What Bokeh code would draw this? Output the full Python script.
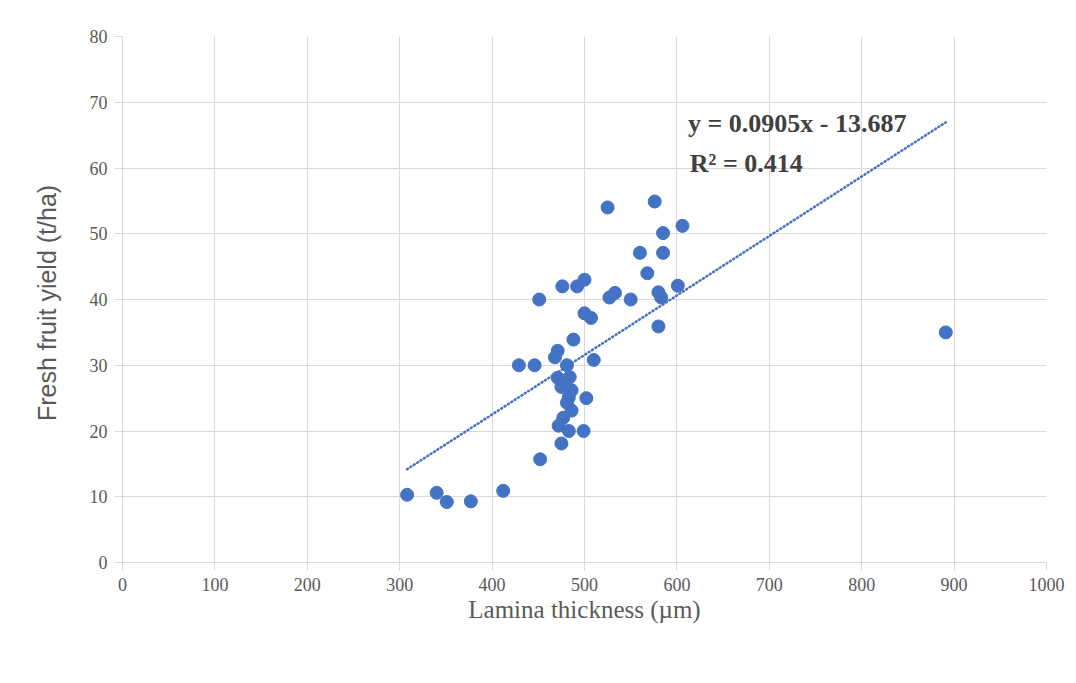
from bokeh.plotting import figure
from bokeh.models import Label, Range1d, FixedTicker, ColumnDataSource
from bokeh.embed import file_html
from bokeh.resources import INLINE

# ---- data ----
thickness = [525, 576, 606, 585, 560, 585, 568, 451, 476, 492, 500, 527, 533, 550,
             580, 583, 601, 580, 500, 507, 488, 471, 468, 510, 429, 446, 481, 484,
             471, 475, 486, 483, 502, 486, 477, 472, 483, 499, 475, 452, 308, 340,
             351, 377, 412, 891, 478, 481]
yield_tha = [54.0, 54.9, 51.2, 50.1, 47.1, 47.1, 44.0, 40.0, 42.0, 42.0, 43.0, 40.3,
             41.0, 40.0, 41.1, 40.3, 42.1, 35.9, 37.9, 37.2, 33.9, 32.2, 31.2, 30.8,
             30.0, 30.0, 30.0, 28.2, 28.1, 26.7, 26.2, 25.1, 25.0, 23.1, 22.0, 20.8,
             20.0, 20.0, 18.1, 15.7, 10.3, 10.6, 9.2, 9.3, 10.9, 35.0, 27.3, 24.3]
slope = 0.0905
intercept = -13.687
r_squared = 0.414
x_ticks = [0, 100, 200, 300, 400, 500, 600, 700, 800, 900, 1000]
y_ticks = [0, 10, 20, 30, 40, 50, 60, 70, 80]

BLUE = "#4472C4"
GRID = "#d9d9d9"
TXT = "#595959"

p = figure(frame_width=924, frame_height=526, output_backend="svg",
           toolbar_location=None, min_border_left=122, min_border_top=36,
           min_border_right=22, min_border_bottom=100,
           x_range=Range1d(0, 1000), y_range=Range1d(0, 80))
p.outline_line_color = None
p.background_fill_color = "white"

for ax in (p.xaxis[0], p.yaxis[0]):
    ax.axis_line_color = GRID
    ax.major_tick_line_color = GRID
    ax.minor_tick_line_color = None
    ax.major_tick_in = 0
    ax.major_tick_out = 8
    ax.major_label_text_font = "Liberation Serif"
    ax.major_label_text_font_size = "18px"
    ax.major_label_text_color = TXT
    ax.major_label_standoff = 7
    ax.axis_label_text_color = TXT
    ax.axis_label_text_font_style = "normal"

p.xaxis.ticker = FixedTicker(ticks=x_ticks)
p.yaxis.ticker = FixedTicker(ticks=y_ticks)

p.xaxis.axis_label = "Lamina thickness (µm)"
p.xaxis.axis_label_text_font = "Liberation Serif"
p.xaxis.axis_label_text_font_size = "25px"
p.xaxis.axis_label_standoff = 2

p.yaxis.axis_label = "Fresh fruit  yield (t/ha)"
p.yaxis.axis_label_text_font = "Liberation Sans"
p.yaxis.axis_label_text_font_size = "25px"
p.yaxis.axis_label_standoff = 26

p.xgrid.grid_line_color = GRID
p.ygrid.grid_line_color = GRID
p.xgrid.ticker = FixedTicker(ticks=x_ticks)
p.ygrid.ticker = FixedTicker(ticks=y_ticks)

src = ColumnDataSource(dict(x=thickness, y=yield_tha))
p.scatter("x", "y", source=src, size=13, fill_color=BLUE, line_color=BLUE)

x0, x1 = min(thickness), max(thickness)
p.line([x0, x1], [slope * x0 + intercept, slope * x1 + intercept],
       line_color=BLUE, line_width=2.5, line_dash="1 3", line_cap="round")

eq = f"y = {slope}x - {abs(intercept)}"
p.add_layout(Label(x=612, y=66.8, text=eq, text_font="Liberation Serif",
                   text_font_style="bold", text_font_size="26px",
                   text_color="#404040", text_baseline="middle"))
p.add_layout(Label(x=614, y=60.7, text=f"R² = {r_squared}", text_font="Liberation Serif",
                   text_font_style="bold", text_font_size="26px",
                   text_color="#404040", text_baseline="middle"))

open("out.html", "w").write(file_html(p, INLINE))
